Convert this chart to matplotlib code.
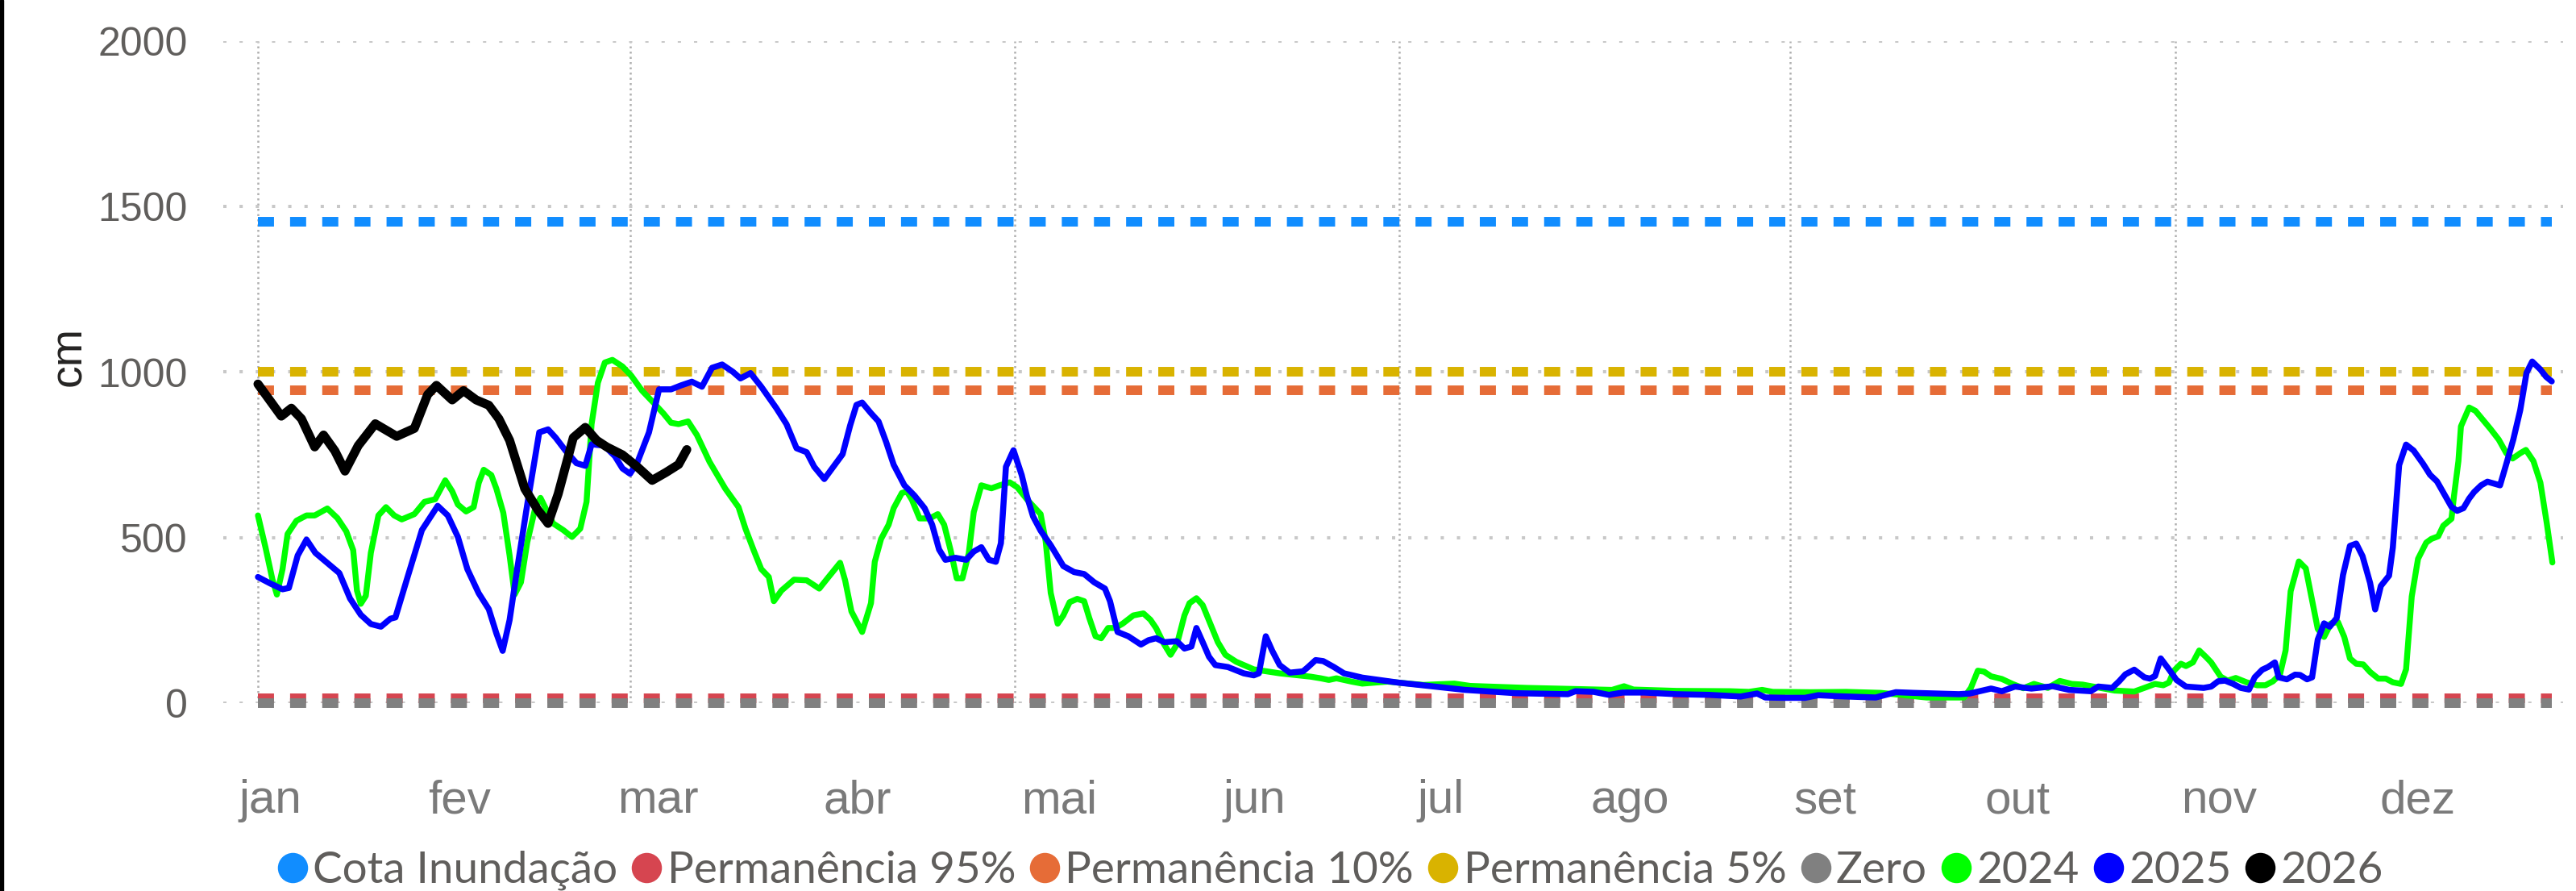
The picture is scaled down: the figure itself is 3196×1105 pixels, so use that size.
import matplotlib
matplotlib.use('Agg')
import matplotlib.pyplot as plt
from matplotlib.lines import Line2D
from matplotlib.patches import Rectangle

plt.rcParams['font.family'] = ['Liberation Sans', 'DejaVu Sans']

# level (cm) per day of year, 0 = 1 jan
days_2024 = [0, 1.2, 2.3, 3, 3.9, 4.7, 6.1, 7.7, 9, 11, 12.6, 14, 15.1, 15.7, 16.3, 17.1, 17.9, 19.1, 20.3, 21.6,
             22.8, 24.8, 26.4, 28.1, 29.7, 30.8, 31.7, 33, 34.2, 35, 35.8, 37, 37.8, 38.9, 39.9, 40.7, 41.7, 42.7, 44, 44.8,
             46.8, 48.4, 49.8, 51.1, 52.1, 52.9, 53.9, 55, 56.2, 57.8, 59.2, 60.9, 62.7, 64.3, 65.5, 66.7, 68.2, 69.6, 71.6, 74.1,
             76.2, 77.3, 78.6, 79.8, 81, 81.8, 83, 85,
             87, 89, 90.3, 92.3, 93.1, 94.1, 95.8, 97.2, 97.8, 98.8, 100, 100.8, 102.1, 102.9, 103.7, 104.9, 106.5, 107.8, 108.8, 109.8,
             110.8, 111.7, 112.7, 113.5, 114.7, 116.3, 117.6, 119.2, 120.4, 122, 124.1, 124.9, 125.7, 126.8, 127.7, 128.7, 129.9, 131, 131.8, 132.8,
             133.7, 134.8, 135.9, 137.1, 138.8, 140.4, 141.5, 142.4, 143.7, 144.7, 145.7, 146.9, 147.7, 148.8, 149.8, 151, 152.2, 153.4, 155.1, 157.9,
             162, 166.9, 168.5, 169.8, 171, 173.4, 175.1, 179.1, 184.8, 189.7, 192.2, 201.2,
             212.1, 214.7, 216.6, 218.1, 224.9, 233.4, 236.4, 238.5, 240.2, 246.2,
             251.8, 257.3, 264.6, 270.5, 271.6, 272.7, 273.7, 274.8, 276.5, 278.2, 279.9, 281.6, 283.8, 285.7, 287.6, 289.3, 291,
             294.4, 297.5,
             299.1, 300.8, 302.1, 303, 303.8, 304.9, 305.7, 306.8, 307.8, 308.9, 309.7, 311.2, 312.3, 313.6, 315.3, 317, 318.3, 319.5, 320.6, 321.5,
             322.3, 323.6, 324.7, 325.5, 326.6, 327.6, 328.7, 329.8, 330.8, 331.7, 332.7, 333.8, 334.9, 336.2, 337.4, 338.5, 339.8, 340.6, 341.5, 342.5,
             343.8, 344.6, 345.7, 346.5, 347.8, 348.2, 348.9, 349.3, 350.6, 351.6, 352.9, 354, 355.3, 356.5, 357.5, 358.7, 359.6, 360.8, 361.9, 362.9,
             363.8]
cm_2024 = [567, 470, 373, 328, 405, 511, 551, 567, 567, 588, 559, 519, 462, 340, 300, 324, 454, 567, 592, 567,
           555, 571, 608, 616, 673, 640, 600, 579, 592, 665, 705, 689, 648, 575, 446, 328, 365, 486, 592, 620,
           543, 523, 502, 527, 608, 843, 968, 1029, 1037, 1017, 989, 944, 908, 875, 847, 843, 851, 810, 729, 648,
           592, 527, 462, 405, 381, 308, 340, 373,
           371, 346, 377, 424, 371, 277, 215, 302, 427, 496, 539, 589, 635, 639, 614, 558, 558, 571, 539, 464,
           377, 377, 452, 577, 658, 649, 658, 667, 652, 614, 571, 489, 333, 240, 265, 305, 315, 308, 258, 202,
           196, 227, 227, 240, 265, 271, 252, 227, 177, 146, 177, 265, 302, 317, 296, 240, 184, 146, 125, 102,
           90, 80, 75, 70, 75, 65, 59, 65, 55, 59, 52, 46,
           41, 40, 51, 41, 37, 36, 34, 40, 34, 33,
           34, 31, 17, 17, 46, 98, 95, 81, 73, 58, 45, 58, 46, 67, 58, 56, 50,
           38, 35,
           46, 58, 54, 62, 98, 119, 112, 123, 159, 139, 123, 80, 68, 76, 63, 54, 54, 66, 86, 159,
           338, 428, 407, 330, 224, 200, 241, 245, 200, 135, 119, 117, 94, 74, 74, 63, 58, 102, 322, 436,
           485, 496, 504, 536, 557, 626, 731, 836, 893, 883, 853, 828, 796, 755, 739, 755, 765, 731, 666, 545,
           425]

days_2025 = [0, 2, 3.9, 4.9, 6.3, 7.7, 9.1, 10.9, 12.9, 14.6, 16.3, 17.9, 19.5, 21, 21.8, 23.6, 26, 28.5, 30.1, 31.7,
             33.2, 35, 36.6, 37.8, 38.8, 39.9, 41.1, 42.7, 44.6, 46, 47.2, 48.8, 50.5, 51.9, 52.9, 54.9, 56.6, 57.8, 59, 60.2,
             62, 63.6, 65.5, 67.1, 68.8, 70.4, 72, 73.6, 75.3, 76.5, 78.1, 79.8, 82.2, 83.8, 85.4,
             87, 88.2, 89.8, 91, 92.7, 93.9, 94.9, 95.8, 97.2, 98.4, 99.6, 100.8, 102.5, 104.1, 105.7, 106.9, 108, 109, 110.6, 112.3,
             113.5, 114.7, 115.9, 117, 117.8, 118.6, 119.8, 121.1, 121.9, 122.9, 124.1, 125.7, 127.7, 129.4, 131, 132.6, 134.3, 135.1, 136.3, 138,
             140, 141.2, 142.4, 143.7, 145.7, 146.9, 148, 148.8, 149.8, 150.8, 151.8, 153.8, 156.3, 157.9, 158.7, 159.8, 160.8, 162, 163.6, 165.7,
             166.5, 167.7, 168.9, 170.6, 172.2, 175.1, 180.8, 191.4, 199.5, 207.7, 208.9, 211.8,
             214.2, 216.4, 219.8, 224.9, 230, 235.1, 237.7, 239, 242, 245.3, 247.4, 250.4,
             256.5, 259.7, 262.5, 269.7, 271.4, 274.8, 276.5, 278.6, 281.2, 284.6, 287.2, 290.6, 291.8, 294,
             295.1, 296.1, 297.5,
             299.1, 300, 300.8, 301.7, 303, 304.2, 305.7, 308.5, 309.7, 310.8, 311.9, 313.2, 314.4, 315.7, 316.6, 317.8, 318.7, 319.8, 320.4, 321.7,
             323, 323.8, 324.9, 325.7, 326.6, 327.6, 328.5, 329.6, 330.6, 331.7, 332.7, 333.7, 334.9, 335.7, 336.6, 337.9, 338.5,
             339.5, 340.6, 341.8, 343.3, 344.4, 345.5, 346.7, 347.8, 348.7, 349.7, 350.6, 351.4, 352.5, 353.5, 355.5, 356.5, 357.6, 358.7, 359.7, 360.6,
             361.9, 362.8, 363.7]
cm_2025 = [381, 361, 344, 348, 446, 494, 454, 425, 393, 316, 267, 239, 231, 255, 259, 373, 523, 596, 567, 502,
           405, 332, 284, 211, 158, 251, 405, 600, 818, 827, 802, 762, 725, 717, 782, 778, 746, 709, 693, 729,
           818, 948, 948, 960, 971, 956, 1013, 1023, 1001, 981, 997, 956, 891, 843, 770,
           758, 714, 677, 708, 752, 839, 901, 908, 876, 851, 789, 720, 658, 627, 589, 539, 464, 433, 439, 433,
           458, 471, 433, 427, 483, 714, 764, 689, 627, 564, 521, 477, 414, 396, 390, 365, 346, 308, 215, 202,
           177, 190, 196, 184, 187, 165, 171, 227, 184, 140, 115, 109, 90, 84, 90, 202, 159, 115, 92, 96,
           109, 130, 127, 109, 90, 77, 62, 40, 30, 27, 36, 34,
           25, 32, 32, 27, 25, 20, 29, 17, 16, 16, 24, 21,
           17, 33, 31, 27, 29, 44, 36, 50, 44, 51, 40, 36, 50, 46,
           66, 87, 101,
           78, 74, 82, 135, 102, 70, 50, 46, 50, 66, 68, 58, 46, 41, 78, 101, 109, 123, 78, 72,
           86, 85, 72, 78, 192, 241, 231, 257, 387, 475, 482, 444, 363, 283, 354, 385, 470,
           719, 781, 763, 723, 690, 670, 630, 593, 581, 589, 618, 638, 658, 669, 658, 723, 796, 885, 998, 1032,
           1008, 986, 972]

days_2026 = [0, 3.7, 5.3, 6.9, 9, 10.4, 12.2, 13.8, 15.9, 18.6, 22, 24.8, 26.9, 28.3, 30.8, 32.6, 34.6, 36.6, 38.2, 39.9,
             42.3, 44.4, 46, 47.6, 50, 51.9, 53.7, 55.3, 57.8, 60.2, 62.5, 64.7, 66.7, 68]
cm_2026 = [964, 867, 891, 859, 774, 810, 762, 701, 778, 844, 806, 830, 932, 960, 916, 944, 916, 900, 859, 794,
           648, 583, 543, 632, 802, 833, 794, 774, 750, 713, 673, 697, 721, 766]

ref_names = ['Cota Inundação', 'Permanência 95%', 'Permanência 10%', 'Permanência 5%', 'Zero']
ref_values = [1455, 15, 945, 1000, 0]
ref_colors = ['#118DFF', '#D64550', '#E66C37', '#D9B300', '#808080']

year_names = ['2024', '2025', '2026']
year_days = [days_2024, days_2025, days_2026]
year_values = [cm_2024, cm_2025, cm_2026]
year_colors = ['#00FF00', '#0000FF', '#000000']
year_widths = [5.3, 5.4, 8.0]

month_labels = ['jan', 'fev', 'mar', 'abr', 'mai', 'jun', 'jul', 'ago', 'set', 'out', 'nov', 'dez']
month_label_days = [2, 32, 63.5, 95, 127, 158, 187.5, 217.5, 248.5, 279, 311, 342.5]
grid_days = [0, 59, 120, 181, 243, 304]
y_ticks = [0, 500, 1000, 1500, 2000]

W, H = 3196, 1105
fig = plt.figure(figsize=(W / 100, H / 100), dpi=100)
ax = fig.add_axes([277 / W, (H - 872) / H, (3180 - 277) / W, (872 - 51) / H])

ax.set_xlim(-5.5, 365.5)
ax.set_ylim(0, 2000)
for s in ax.spines.values():
    s.set_visible(False)
ax.set_axisbelow(True)

# reference levels, drawn over the whole data period
span = [days_2025[0], days_2025[-1]]
for name, v, c in zip(ref_names, ref_values, ref_colors):
    ax.plot(span, [v, v], color=c, lw=8.6, linestyle=(0, (1.67, 1.67)),
            dash_capstyle='butt', clip_on=False, zorder=2)

for name, d, v, c, w in zip(year_names, year_days, year_values, year_colors, year_widths):
    ax.plot(d, v, color=c, lw=w, solid_joinstyle='round', solid_capstyle='round',
            clip_on=False, zorder=3)

ax.set_yticks(y_ticks)
ax.set_yticklabels([str(t) for t in y_ticks], family=['Liberation Sans Narrow', 'Liberation Sans'],
                   fontsize=36, color='#605E5C')
ax.tick_params(axis='y', length=0, pad=32)

ax.set_xticks(month_label_days)
ax.set_xticklabels(month_labels, fontsize=42, color='#7a7a7a')
ax.tick_params(axis='x', length=0, pad=68)
ax.set_xticks(grid_days, minor=True)
ax.tick_params(which='minor', length=0)

ax.grid(axis='y', color='#c8c8c8', lw=2.9, linestyle=(0, (1, 4)))
ax.grid(axis='x', which='minor', color='#b0b0b0', lw=1.8, linestyle=(0, (1, 1.6)))
ax.grid(axis='x', which='major', visible=False)

fig.text(86 / W, 1 - 442 / H, 'cm', rotation=90, ha='center', va='center', fontsize=40, color='#252423')

handles = [Line2D([], [], marker='o', linestyle='none', markersize=27, markerfacecolor=c, markeredgewidth=0)
           for c in ref_colors + year_colors]
fig.legend(handles, ref_names + year_names, loc='center left', bbox_to_anchor=(343 / W, 0.023), ncol=8,
           frameon=False, prop={'family': ['Lato', 'DejaVu Sans'], 'size': 39.5},
           handlelength=0.72, handletextpad=0.1, columnspacing=0.3,
           borderpad=0, borderaxespad=0, labelcolor='#605E5C')

fig.add_artist(Rectangle((0, 0), 4 / W, 1, transform=fig.transFigure, color='black'))

fig.savefig('out.png', dpi=100)
